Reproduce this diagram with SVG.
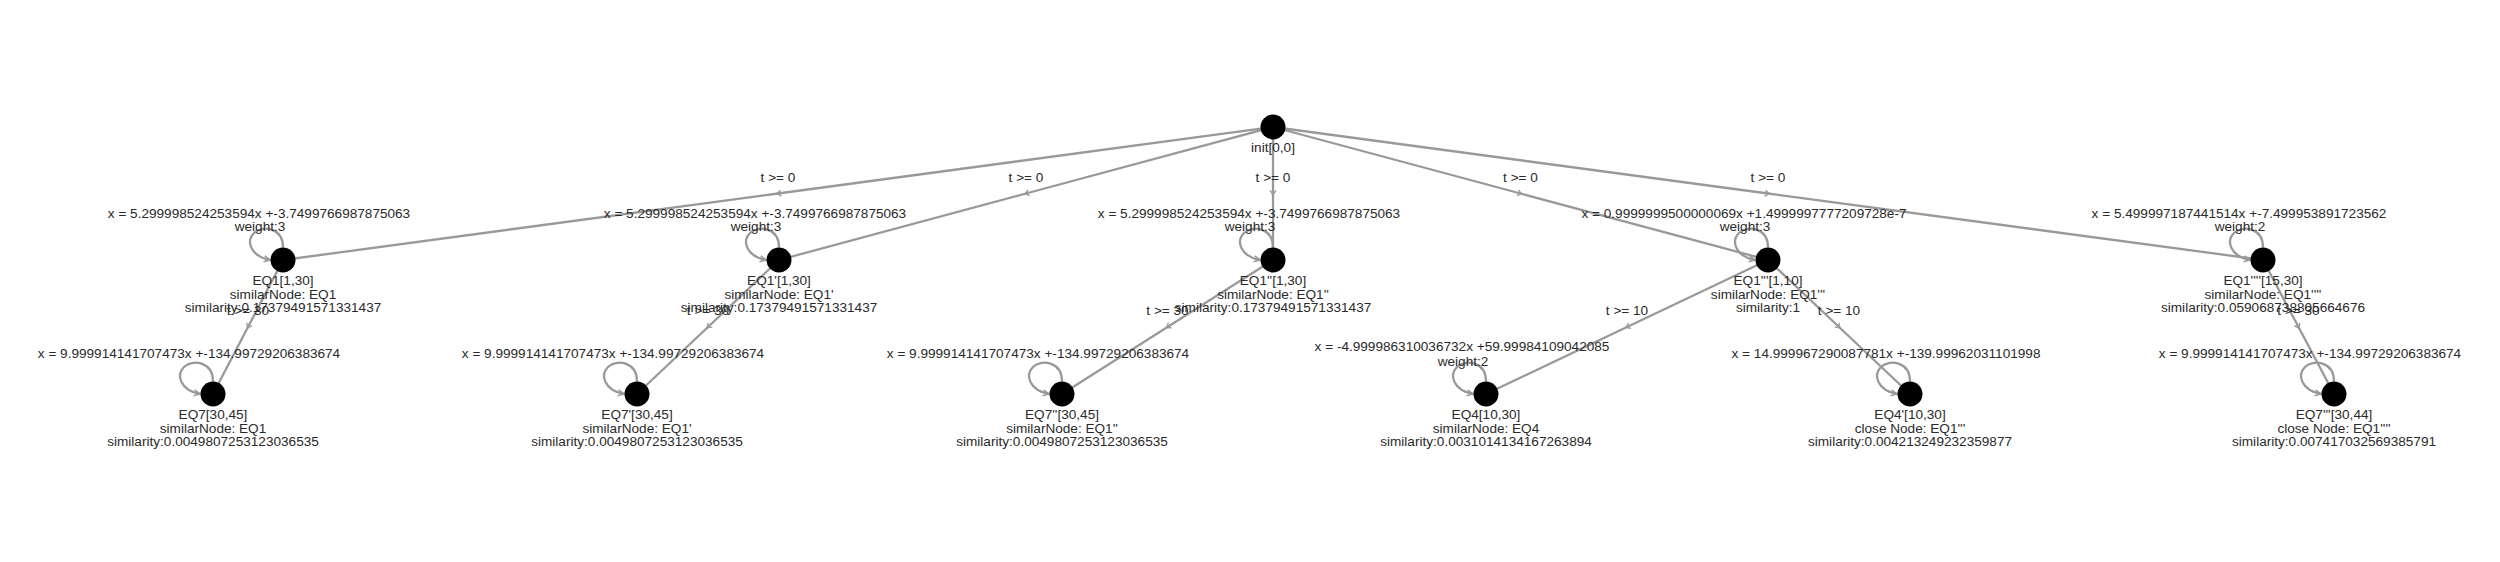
<svg xmlns="http://www.w3.org/2000/svg" width="2500" height="562" viewBox="0 0 2500 562">
<style>
.e{fill:none;stroke:#999;stroke-width:2.3}
.m{marker-mid:url(#chev)}
.l{fill:none;stroke:#999;stroke-width:2.3;marker-end:url(#tip)}
text{font-family:"Liberation Sans",Arial,sans-serif;font-size:13.6px;fill:#2a2a2a;text-anchor:middle}
.n{fill:#000}
</style>
<defs>
<marker id="chev" viewBox="0 0 8 8" refX="4" refY="4" markerWidth="8" markerHeight="8" markerUnits="userSpaceOnUse" orient="auto">
<path d="M1,1 L5,4 L1,7" fill="none" stroke="#999" stroke-width="1.4"/>
</marker>
<marker id="tip" viewBox="0 0 8 8" refX="7" refY="4" markerWidth="8" markerHeight="8" markerUnits="userSpaceOnUse" orient="auto">
<path d="M1,1 L7,4 L1,7" fill="none" stroke="#999" stroke-width="1.4"/>
</marker>
<path id="loop" class="l" d="M0,-12.5 C0,-33 -21,-35 -29,-27 C-37,-19 -33,-4 -13,0"/>
</defs>
<rect width="2500" height="562" fill="#fff"/>
<g id="connectors">
<path class="e m" d="M1273,127 L778,193.5 L283,260"/>
<path class="e m" d="M1273,127 L1026,193.5 L779,260"/>
<path class="e m" d="M1273,127 L1273,193.5 L1273,260"/>
<path class="e m" d="M1273,127 L1520.5,193.5 L1768,260"/>
<path class="e m" d="M1273,127 L1768,193.5 L2263,260"/>
<path class="e m" d="M283,260 L248,327 L213,394"/>
<path class="e m" d="M779,260 L708,327 L637,394"/>
<path class="e m" d="M1273,260 L1167.5,327 L1062,394"/>
<path class="e m" d="M1768,260 L1627,327 L1486,394"/>
<path class="e m" d="M1768,260 L1839,327 L1910,394"/>
<path class="e m" d="M2263,260 L2298.5,327 L2334,394"/>
<use href="#loop" x="283" y="260"/>
<use href="#loop" x="779" y="260"/>
<use href="#loop" x="1273" y="260"/>
<use href="#loop" x="1768" y="260"/>
<use href="#loop" x="2263" y="260"/>
<use href="#loop" x="213" y="394"/>
<use href="#loop" x="637" y="394"/>
<use href="#loop" x="1062" y="394"/>
<use href="#loop" x="1486" y="394"/>
<use href="#loop" x="1910" y="394"/>
<use href="#loop" x="2334" y="394"/>
<text x="778" y="181.5">t &gt;= 0</text>
<text x="1026" y="181.5">t &gt;= 0</text>
<text x="1273" y="181.5">t &gt;= 0</text>
<text x="1520.5" y="181.5">t &gt;= 0</text>
<text x="1768" y="181.5">t &gt;= 0</text>
<text x="248" y="315">t &gt;= 30</text>
<text x="708" y="315">t &gt;= 30</text>
<text x="1167.5" y="315">t &gt;= 30</text>
<text x="1627" y="315">t &gt;= 10</text>
<text x="1839" y="315">t &gt;= 10</text>
<text x="2298.5" y="315">t &gt;= 30</text>
<text x="259" y="217.5">x = 5.299998524253594x +-3.7499766987875063</text>
<text x="260" y="231">weight:3</text>
<text x="755" y="217.5">x = 5.299998524253594x +-3.7499766987875063</text>
<text x="756" y="231">weight:3</text>
<text x="1249" y="217.5">x = 5.299998524253594x +-3.7499766987875063</text>
<text x="1250" y="231">weight:3</text>
<text x="1744" y="217.5">x = 0.9999999500000069x +1.4999997777209728e-7</text>
<text x="1745" y="231">weight:3</text>
<text x="2239" y="217.5">x = 5.499997187441514x +-7.499953891723562</text>
<text x="2240" y="231">weight:2</text>
<text x="189" y="358.3">x = 9.999914141707473x +-134.99729206383674</text>
<text x="613" y="358.3">x = 9.999914141707473x +-134.99729206383674</text>
<text x="1038" y="358.3">x = 9.999914141707473x +-134.99729206383674</text>
<text x="1462" y="351">x = -4.999986310036732x +59.99984109042085</text>
<text x="1463" y="365.5">weight:2</text>
<text x="1886" y="358.3">x = 14.999967290087781x +-139.99962031101998</text>
<text x="2310" y="358.3">x = 9.999914141707473x +-134.99729206383674</text>
</g>
<g id="init"><circle class="n" cx="1273" cy="127" r="12.5"/><text x="1273" y="151.5">init[0,0]</text></g>
<g id="EQ1"><circle class="n" cx="283" cy="260" r="12.5"/><text x="283" y="285">EQ1[1,30]</text><text x="283" y="298.5">similarNode: EQ1</text><text x="283" y="312">similarity:0.17379491571331437</text></g>
<g id="EQ1p"><circle class="n" cx="779" cy="260" r="12.5"/><text x="779" y="285">EQ1'[1,30]</text><text x="779" y="298.5">similarNode: EQ1'</text><text x="779" y="312">similarity:0.17379491571331437</text></g>
<g id="EQ1pp"><circle class="n" cx="1273" cy="260" r="12.5"/><text x="1273" y="285">EQ1''[1,30]</text><text x="1273" y="298.5">similarNode: EQ1''</text><text x="1273" y="312">similarity:0.17379491571331437</text></g>
<g id="EQ1ppp"><circle class="n" cx="1768" cy="260" r="12.5"/><text x="1768" y="285">EQ1'''[1,10]</text><text x="1768" y="298.5">similarNode: EQ1'''</text><text x="1768" y="312">similarity:1</text></g>
<g id="EQ1pppp"><circle class="n" cx="2263" cy="260" r="12.5"/><text x="2263" y="285">EQ1''''[15,30]</text><text x="2263" y="298.5">similarNode: EQ1''''</text><text x="2263" y="312">similarity:0.059068738805664676</text></g>
<g id="EQ7"><circle class="n" cx="213" cy="394" r="12.5"/><text x="213" y="419">EQ7[30,45]</text><text x="213" y="432.5">similarNode: EQ1</text><text x="213" y="446">similarity:0.0049807253123036535</text></g>
<g id="EQ7p"><circle class="n" cx="637" cy="394" r="12.5"/><text x="637" y="419">EQ7'[30,45]</text><text x="637" y="432.5">similarNode: EQ1'</text><text x="637" y="446">similarity:0.0049807253123036535</text></g>
<g id="EQ7pp"><circle class="n" cx="1062" cy="394" r="12.5"/><text x="1062" y="419">EQ7''[30,45]</text><text x="1062" y="432.5">similarNode: EQ1''</text><text x="1062" y="446">similarity:0.0049807253123036535</text></g>
<g id="EQ4"><circle class="n" cx="1486" cy="394" r="12.5"/><text x="1486" y="419">EQ4[10,30]</text><text x="1486" y="432.5">similarNode: EQ4</text><text x="1486" y="446">similarity:0.0031014134167263894</text></g>
<g id="EQ4p"><circle class="n" cx="1910" cy="394" r="12.5"/><text x="1910" y="419">EQ4'[10,30]</text><text x="1910" y="432.5">close Node: EQ1'''</text><text x="1910" y="446">similarity:0.004213249232359877</text></g>
<g id="EQ7ppp"><circle class="n" cx="2334" cy="394" r="12.5"/><text x="2334" y="419">EQ7'''[30,44]</text><text x="2334" y="432.5">close Node: EQ1''''</text><text x="2334" y="446">similarity:0.007417032569385791</text></g>
</svg>
